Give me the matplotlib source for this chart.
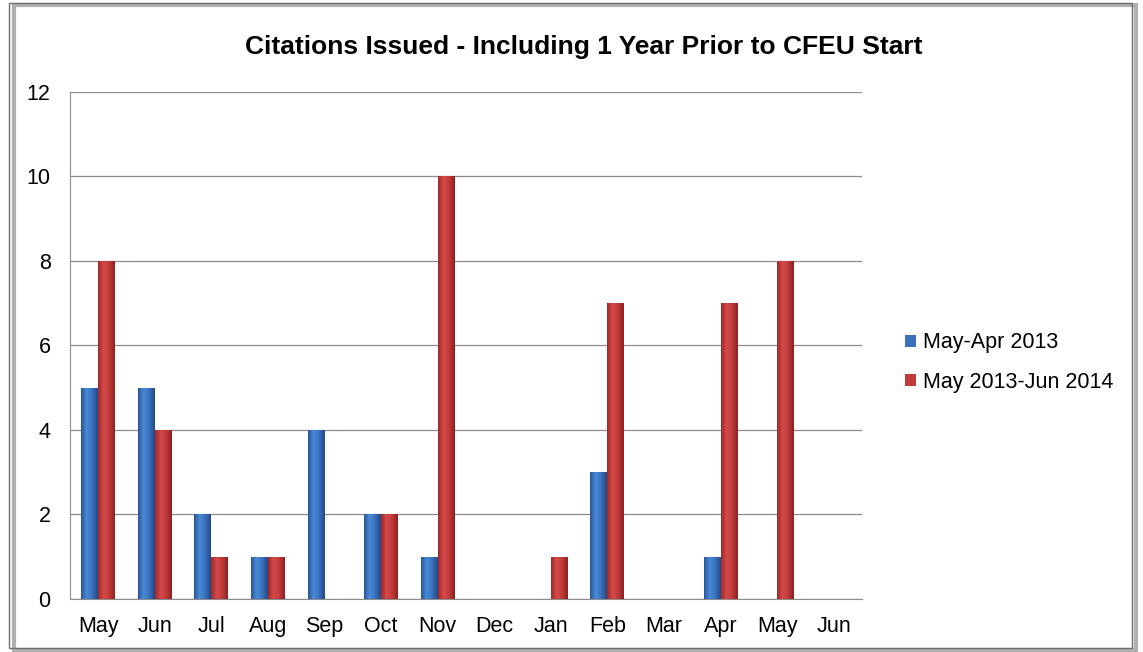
import matplotlib.pyplot as plt
import matplotlib.patches as mpatches
from matplotlib.colors import LinearSegmentedColormap
import numpy as np

plt.rcParams['font.family'] = ['Liberation Sans', 'DejaVu Sans']

# Dados do gráfico
meses = ['May', 'Jun', 'Jul', 'Aug', 'Sep', 'Oct', 'Nov', 'Dec', 'Jan', 'Feb', 'Mar', 'Apr', 'May', 'Jun']
serie_2013 = [5, 5, 2, 1, 4, 2, 1, 0, 0, 3, 0, 1, 0, 0]
serie_2014 = [8, 4, 1, 1, 0, 2, 10, 0, 1, 7, 0, 7, 8, 0]
rotulos = ['May-Apr 2013', 'May 2013-Jun 2014']

fig = plt.figure(figsize=(11.43, 6.52), dpi=100)
ax = fig.add_axes([0.0612, 0.0813, 0.693, 0.778])

x = np.arange(len(meses))
largura = 0.3

# Degradê horizontal para simular o efeito cilíndrico
cmap_azul = LinearSegmentedColormap.from_list('azul', ['#2a5699', '#4a8ad6', '#3a70bc', '#24498a'])
cmap_verm = LinearSegmentedColormap.from_list('verm', ['#9e2828', '#d44a4a', '#c03a3a', '#8a2222'])
gradiente = np.linspace(0, 1, 64).reshape(1, -1)

barras_a = ax.bar(x - largura / 2, serie_2013, largura, color='#3b70bd', edgecolor='none', label=rotulos[0], zorder=3)
barras_b = ax.bar(x + largura / 2, serie_2014, largura, color='#c23a3a', edgecolor='none', label=rotulos[1], zorder=3)

for barras, cmap in [(barras_a, cmap_azul), (barras_b, cmap_verm)]:
    for b in barras:
        if b.get_height() <= 0:
            continue
        x0, y0 = b.get_x(), b.get_y()
        im = ax.imshow(gradiente, cmap=cmap, aspect='auto', zorder=4,
                       extent=[x0, x0 + b.get_width(), y0, y0 + b.get_height()])
        im.set_clip_path(b)

ax.set_xlim(-0.5, len(meses) - 0.5)
ax.set_ylim(0, 12)
ax.set_yticks(range(0, 13, 2))
ax.set_xticks(x)
ax.set_xticklabels(meses, fontsize=15.5)
ax.tick_params(axis='y', labelsize=15.5, length=0, pad=14)
ax.tick_params(axis='x', length=0, pad=12)
ax.yaxis.grid(True, color='#8c8c8c', linewidth=0.9, zorder=0)

for lado in ['top', 'right']:
    ax.spines[lado].set_visible(False)
for lado in ['left', 'bottom']:
    ax.spines[lado].set_color('#8c8c8c')

fig.text(0.511, 0.928, 'Citations Issued - Including 1 Year Prior to CFEU Start', ha='center', va='center',
         fontsize=19, fontweight='bold')

ax.legend(loc='center left', bbox_to_anchor=(1.03, 0.466), frameon=False, fontsize=15.5,
          handlelength=0.5, handleheight=0.5, handletextpad=0.35, labelspacing=0.85)

# Moldura externa com sombra
fig.patches.append(mpatches.Rectangle((0.012, 0.003), 0.982, 0.990, transform=fig.transFigure,
                                      fill=False, edgecolor='#b0b0b0', linewidth=3, zorder=0))
fig.patches.append(mpatches.Rectangle((0.008, 0.006), 0.982, 0.990, transform=fig.transFigure,
                                      fill=False, edgecolor='#6e6e6e', linewidth=1, zorder=1))

fig.savefig('out.png', dpi=100)
